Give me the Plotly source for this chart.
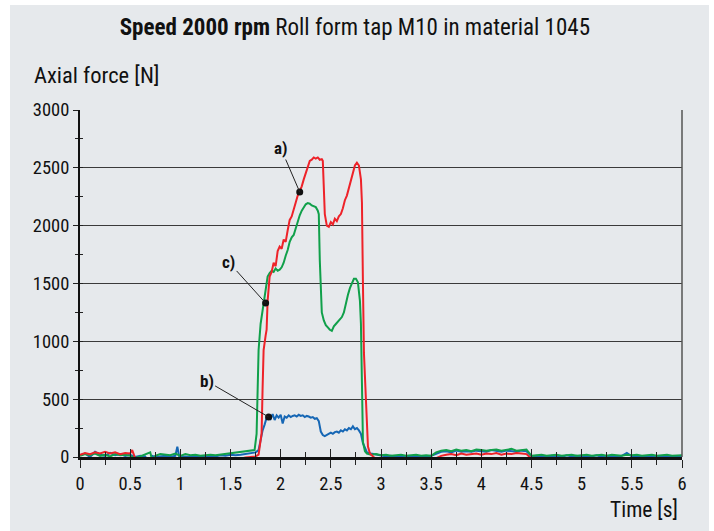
import plotly.graph_objects as go

# ---------------- data ----------------
t_a = [0.00,0.05,0.10,0.15,0.20,0.25,0.30,0.35,0.40,0.45,0.50,0.52,0.55,0.60,0.65,0.70,0.75,0.80,0.85,0.90,
       0.95,1.00,1.03,1.05,1.10,1.15,1.20,1.25,1.30,1.35,1.40,1.45,1.50,1.55,1.60,1.65,1.70,1.75,1.78,1.80,
       1.81,1.82,1.83,1.85,1.86,1.87,1.88,1.89,1.91,1.93,1.95,1.97,1.99,2.01,2.03,2.05,2.07,2.09,2.11,2.13,
       2.15,2.17,2.19,2.21,2.23,2.25,2.27,2.29,2.31,2.33,2.35,2.37,2.39,2.41,2.42,2.43,2.44,2.46,2.48,2.50,
       2.52,2.54,2.56,2.58,2.60,2.62,2.64,2.66,2.68,2.70,2.72,2.74,2.76,2.78,2.80,2.81,2.82,2.83,2.85,2.86,
       2.87,2.89,2.92,2.95,3.00,3.05,3.10,3.15,3.20,3.25,3.30,3.35,3.40,3.45,3.50,3.55,3.60,3.65,3.70,3.75,
       3.80,3.85,3.90,3.95,4.00,4.05,4.10,4.15,4.20,4.25,4.30,4.35,4.40,4.45,4.50,4.55,4.60,4.65,4.70,4.75,
       4.80,4.85,4.90,4.95,5.00,5.05,5.10,5.15,5.20,5.25,5.30,5.35,5.40,5.45,5.50,5.55,5.60,5.65,5.70,5.75,
       5.80,5.85,5.90,5.95,6.00]
f_a = [20,35,25,40,30,45,30,40,25,35,30,60,-10,-15,-25,-10,-20,-30,-15,-25,
       -10,-20,-70,-15,-25,-10,-30,-15,-20,-10,-25,-15,-30,-20,-10,-5,0,5,20,120,
       207,600,925,1050,1100,1350,1500,1560,1600,1680,1650,1780,1820,1800,1880,1860,1960,2050,2080,2150,
       2200,2260,2300,2340,2400,2460,2500,2560,2570,2590,2580,2590,2570,2575,2560,2300,2100,2000,1990,2030,
       2010,2060,2040,2080,2100,2150,2220,2260,2320,2400,2450,2520,2545,2520,2400,2200,1500,900,493,250,
       90,30,0,-20,-25,-35,-20,-30,-40,-25,-30,-20,-35,-25,-40,-10,10,20,25,15,
       30,20,25,30,20,30,25,35,20,30,25,35,30,25,-15,-20,-25,-15,-20,-30,
       -15,-25,-20,-30,-15,-25,-20,-15,-30,-20,-25,-15,-30,-20,-25,-15,-20,-30,-15,-25,
       -20,-30,-15,-25,-20]

t_b = [0.00,0.05,0.10,0.15,0.20,0.25,0.30,0.35,0.40,0.45,0.50,0.55,0.60,0.65,0.70,0.72,0.75,0.80,0.85,0.90,
       0.95,0.97,0.99,1.05,1.10,1.15,1.20,1.25,1.30,1.35,1.40,1.45,1.50,1.55,1.60,1.65,1.70,1.75,1.78,1.80,
       1.82,1.84,1.86,1.88,1.90,1.92,1.94,1.96,1.98,2.00,2.02,2.04,2.06,2.08,2.10,2.12,2.14,2.16,2.18,2.20,
       2.22,2.24,2.26,2.28,2.30,2.32,2.34,2.36,2.38,2.40,2.42,2.44,2.46,2.48,2.50,2.52,2.54,2.56,2.58,2.60,
       2.62,2.64,2.66,2.68,2.70,2.72,2.74,2.76,2.78,2.80,2.82,2.84,2.86,2.90,2.95,3.00,3.05,3.10,3.15,3.20,
       3.25,3.30,3.35,3.40,3.45,3.50,3.55,3.60,3.65,3.70,3.75,3.80,3.85,3.90,3.95,4.00,4.05,4.10,4.15,4.20,
       4.25,4.30,4.35,4.40,4.45,4.50,4.55,4.60,4.65,4.70,4.75,4.80,4.85,4.90,4.95,5.00,5.05,5.10,5.15,5.20,
       5.25,5.30,5.35,5.40,5.45,5.50,5.55,5.60,5.65,5.70,5.75,5.80,5.85,5.90,5.95,6.00]
f_b = [15,30,0,45,20,10,35,15,25,10,20,0,10,5,-90,10,0,5,10,0,
       10,90,0,5,0,10,5,0,10,5,15,10,20,15,20,25,30,40,60,150,
       230,280,340,350,330,370,320,360,340,365,290,350,340,360,345,355,360,350,365,355,
       360,345,355,350,340,345,330,335,310,220,190,180,190,200,210,200,215,220,210,230,
       220,240,230,250,240,265,240,250,230,200,120,80,40,30,20,15,5,10,0,10,
       5,0,10,5,0,10,30,45,50,40,55,45,50,45,55,50,45,60,50,45,
       55,50,45,55,50,5,10,5,0,10,5,0,15,5,10,0,10,5,15,0,
       10,5,0,10,35,5,10,0,5,10,0,5,10,0,5,10]

t_c = [0.00,0.05,0.10,0.15,0.20,0.25,0.30,0.35,0.40,0.45,0.50,0.55,0.60,0.65,0.70,0.72,0.75,0.80,0.85,0.90,
       0.95,1.00,1.05,1.10,1.15,1.20,1.25,1.30,1.35,1.40,1.45,1.50,1.55,1.60,1.65,1.70,1.74,1.76,1.78,1.80,
       1.83,1.85,1.87,1.89,1.91,1.93,1.95,1.97,1.99,2.01,2.03,2.05,2.07,2.09,2.11,2.13,2.15,2.17,2.19,2.21,
       2.23,2.25,2.27,2.29,2.31,2.33,2.35,2.37,2.38,2.39,2.40,2.41,2.43,2.45,2.47,2.49,2.51,2.53,2.55,2.57,
       2.59,2.61,2.63,2.65,2.67,2.69,2.71,2.73,2.75,2.77,2.79,2.80,2.81,2.82,2.84,2.86,2.90,2.95,3.00,3.05,
       3.10,3.15,3.20,3.25,3.30,3.35,3.40,3.45,3.50,3.55,3.60,3.65,3.70,3.75,3.80,3.85,3.90,3.95,4.00,4.05,
       4.10,4.15,4.20,4.25,4.30,4.35,4.40,4.45,4.50,4.55,4.60,4.65,4.70,4.75,4.80,4.85,4.90,4.95,5.00,5.05,
       5.10,5.15,5.20,5.25,5.30,5.35,5.40,5.45,5.50,5.55,5.60,5.65,5.70,5.75,5.80,5.85,5.90,5.95,6.00]
f_c = [10,25,15,30,10,20,5,25,15,20,10,-10,5,20,40,-30,10,25,20,15,
       30,10,25,15,20,10,15,20,15,20,25,30,35,40,45,50,60,200,925,1150,
       1331,1450,1560,1590,1610,1600,1630,1610,1620,1640,1680,1740,1790,1860,1900,1920,1980,2040,2090,2130,
       2160,2185,2195,2190,2175,2165,2160,2130,2100,1700,1400,1250,1180,1140,1120,1100,1090,1130,1150,1170,
       1190,1210,1250,1330,1400,1460,1500,1540,1540,1510,1350,1150,640,130,50,30,20,25,15,20,
       10,15,20,10,15,20,10,15,10,40,55,60,50,65,55,60,50,65,60,55,
       60,65,55,60,70,55,60,65,10,15,20,10,15,20,10,15,20,10,15,20,
       10,15,20,10,20,15,10,20,15,20,10,15,20,10,15,20,10,15,15]

marker_t = [2.19, 1.85, 1.88]
marker_f = [2291, 1331, 346]
marker_lbl = ["a)", "c)", "b)"]
label_offsets = [(-19, -44), (-37, -41), (-62, -36)]

xtick_vals = [0, 0.5, 1, 1.5, 2, 2.5, 3, 3.5, 4, 4.5, 5, 5.5, 6]
xtick_text = ["0", "0.5", "1", "1.5", "2", "2.5", "3", "3.5", "4", "4.5", "5", "5.5", "6"]
ytick_vals = [0, 500, 1000, 1500, 2000, 2500, 3000]

# ---------------- styling ----------------
FONT = "Liberation Sans Narrow, Arial Narrow, Roboto Condensed, DejaVu Sans Condensed, sans-serif"
BG = "#e6e9ec"
RED = "#ee2229"
GREEN = "#10a04a"
BLUE = "#1667b5"

fig = go.Figure()
fig.add_trace(go.Scatter(x=t_b, y=f_b, mode="lines", line=dict(color=BLUE, width=2), hoverinfo="skip"))
fig.add_trace(go.Scatter(x=t_c, y=f_c, mode="lines", line=dict(color=GREEN, width=2), hoverinfo="skip"))
fig.add_trace(go.Scatter(x=t_a, y=f_a, mode="lines", line=dict(color=RED, width=2), hoverinfo="skip"))
fig.add_trace(go.Scatter(x=marker_t, y=marker_f, mode="markers",
                         marker=dict(color="#111", size=7), hoverinfo="skip"))
# dummy trace to create overlay axes for crossing ticks
fig.add_trace(go.Scatter(x=[None], y=[None], xaxis="x2", yaxis="y2", showlegend=False))

for tx, ty, lbl, (ax, ay) in zip(marker_t, marker_f, marker_lbl, label_offsets):
    fig.add_annotation(x=tx, y=ty, text="<b>" + lbl + "</b>", showarrow=True, arrowhead=0,
                       arrowwidth=1, arrowcolor="#222", ax=ax, ay=ay,
                       font=dict(family=FONT, size=17, color="#111"))

fig.add_annotation(text="Axial force [N]", xref="paper", yref="paper", x=-0.0797, y=1.1009,
                   xanchor="left", yanchor="middle", showarrow=False,
                   font=dict(family=FONT, size=22.5, color="#111"))
fig.add_annotation(text="Time [s]", xref="paper", yref="paper", x=0.996, y=-0.1527,
                   xanchor="right", yanchor="middle", showarrow=False,
                   font=dict(family=FONT, size=21.5, color="#111"))

# background panel + right border
fig.add_shape(type="rect", xref="paper", yref="paper", x0=-0.1163, x1=1.0449, y0=-0.25, y1=1.3026,
              fillcolor=BG, line=dict(width=0), layer="below")
fig.add_shape(type="line", xref="paper", yref="paper", x0=1, x1=1, y0=0, y1=1,
              line=dict(color="#555", width=1.5))

fig.update_layout(
    width=714, height=531,
    margin=dict(l=80, r=32, t=110, b=74),
    paper_bgcolor="white", plot_bgcolor="rgba(0,0,0,0)",
    showlegend=False,
    title=dict(text="<b>Speed 2000 rpm</b> Roll form tap M10 in material 1045",
               x=0.497, xanchor="center", y=0.949, yanchor="middle",
               font=dict(family=FONT, size=23, color="#111")),
    xaxis=dict(range=[0, 6], tickvals=xtick_vals, ticktext=xtick_text, showgrid=False, zeroline=False,
               showline=True, linecolor="#111", linewidth=3,
               ticks="outside", ticklen=8, tickwidth=1.2, tickcolor="#222",
               minor=dict(dtick=0.25, tick0=0, ticks="outside", ticklen=5, tickwidth=1.2, tickcolor="#222"),
               tickfont=dict(family=FONT, size=18.5, color="#111")),
    xaxis2=dict(range=[0, 6], overlaying="x", anchor="y2", side="bottom", showgrid=False, zeroline=False,
                showticklabels=False, tickvals=xtick_vals,
                ticks="inside", ticklen=8, tickwidth=1.2, tickcolor="#222",
                minor=dict(dtick=0.25, tick0=0, ticks="inside", ticklen=5, tickwidth=1.2, tickcolor="#222")),
    yaxis=dict(range=[0, 3000], tickvals=ytick_vals, showgrid=True, gridcolor="#3a3a3a", gridwidth=1.4,
               zeroline=False, showline=True, linecolor="#111", linewidth=2,
               ticks="outside", ticklen=5, tickwidth=1.2, tickcolor="#222",
               minor=dict(dtick=250, tick0=0, ticks="outside", ticklen=3, tickwidth=1.2, tickcolor="#222"),
               tickfont=dict(family=FONT, size=18.5, color="#111")),
    yaxis2=dict(range=[0, 3000], overlaying="y", anchor="x2", side="left", showgrid=False, zeroline=False,
                showticklabels=False, tickvals=ytick_vals,
                ticks="inside", ticklen=3, tickwidth=1.2, tickcolor="#222",
                minor=dict(dtick=250, tick0=0, ticks="inside", ticklen=3, tickwidth=1.2, tickcolor="#222")),
)

fig.write_html("out.html", config={"displayModeBar": False},
               post_script="document.body.style.margin='0';document.body.style.padding='0';")
